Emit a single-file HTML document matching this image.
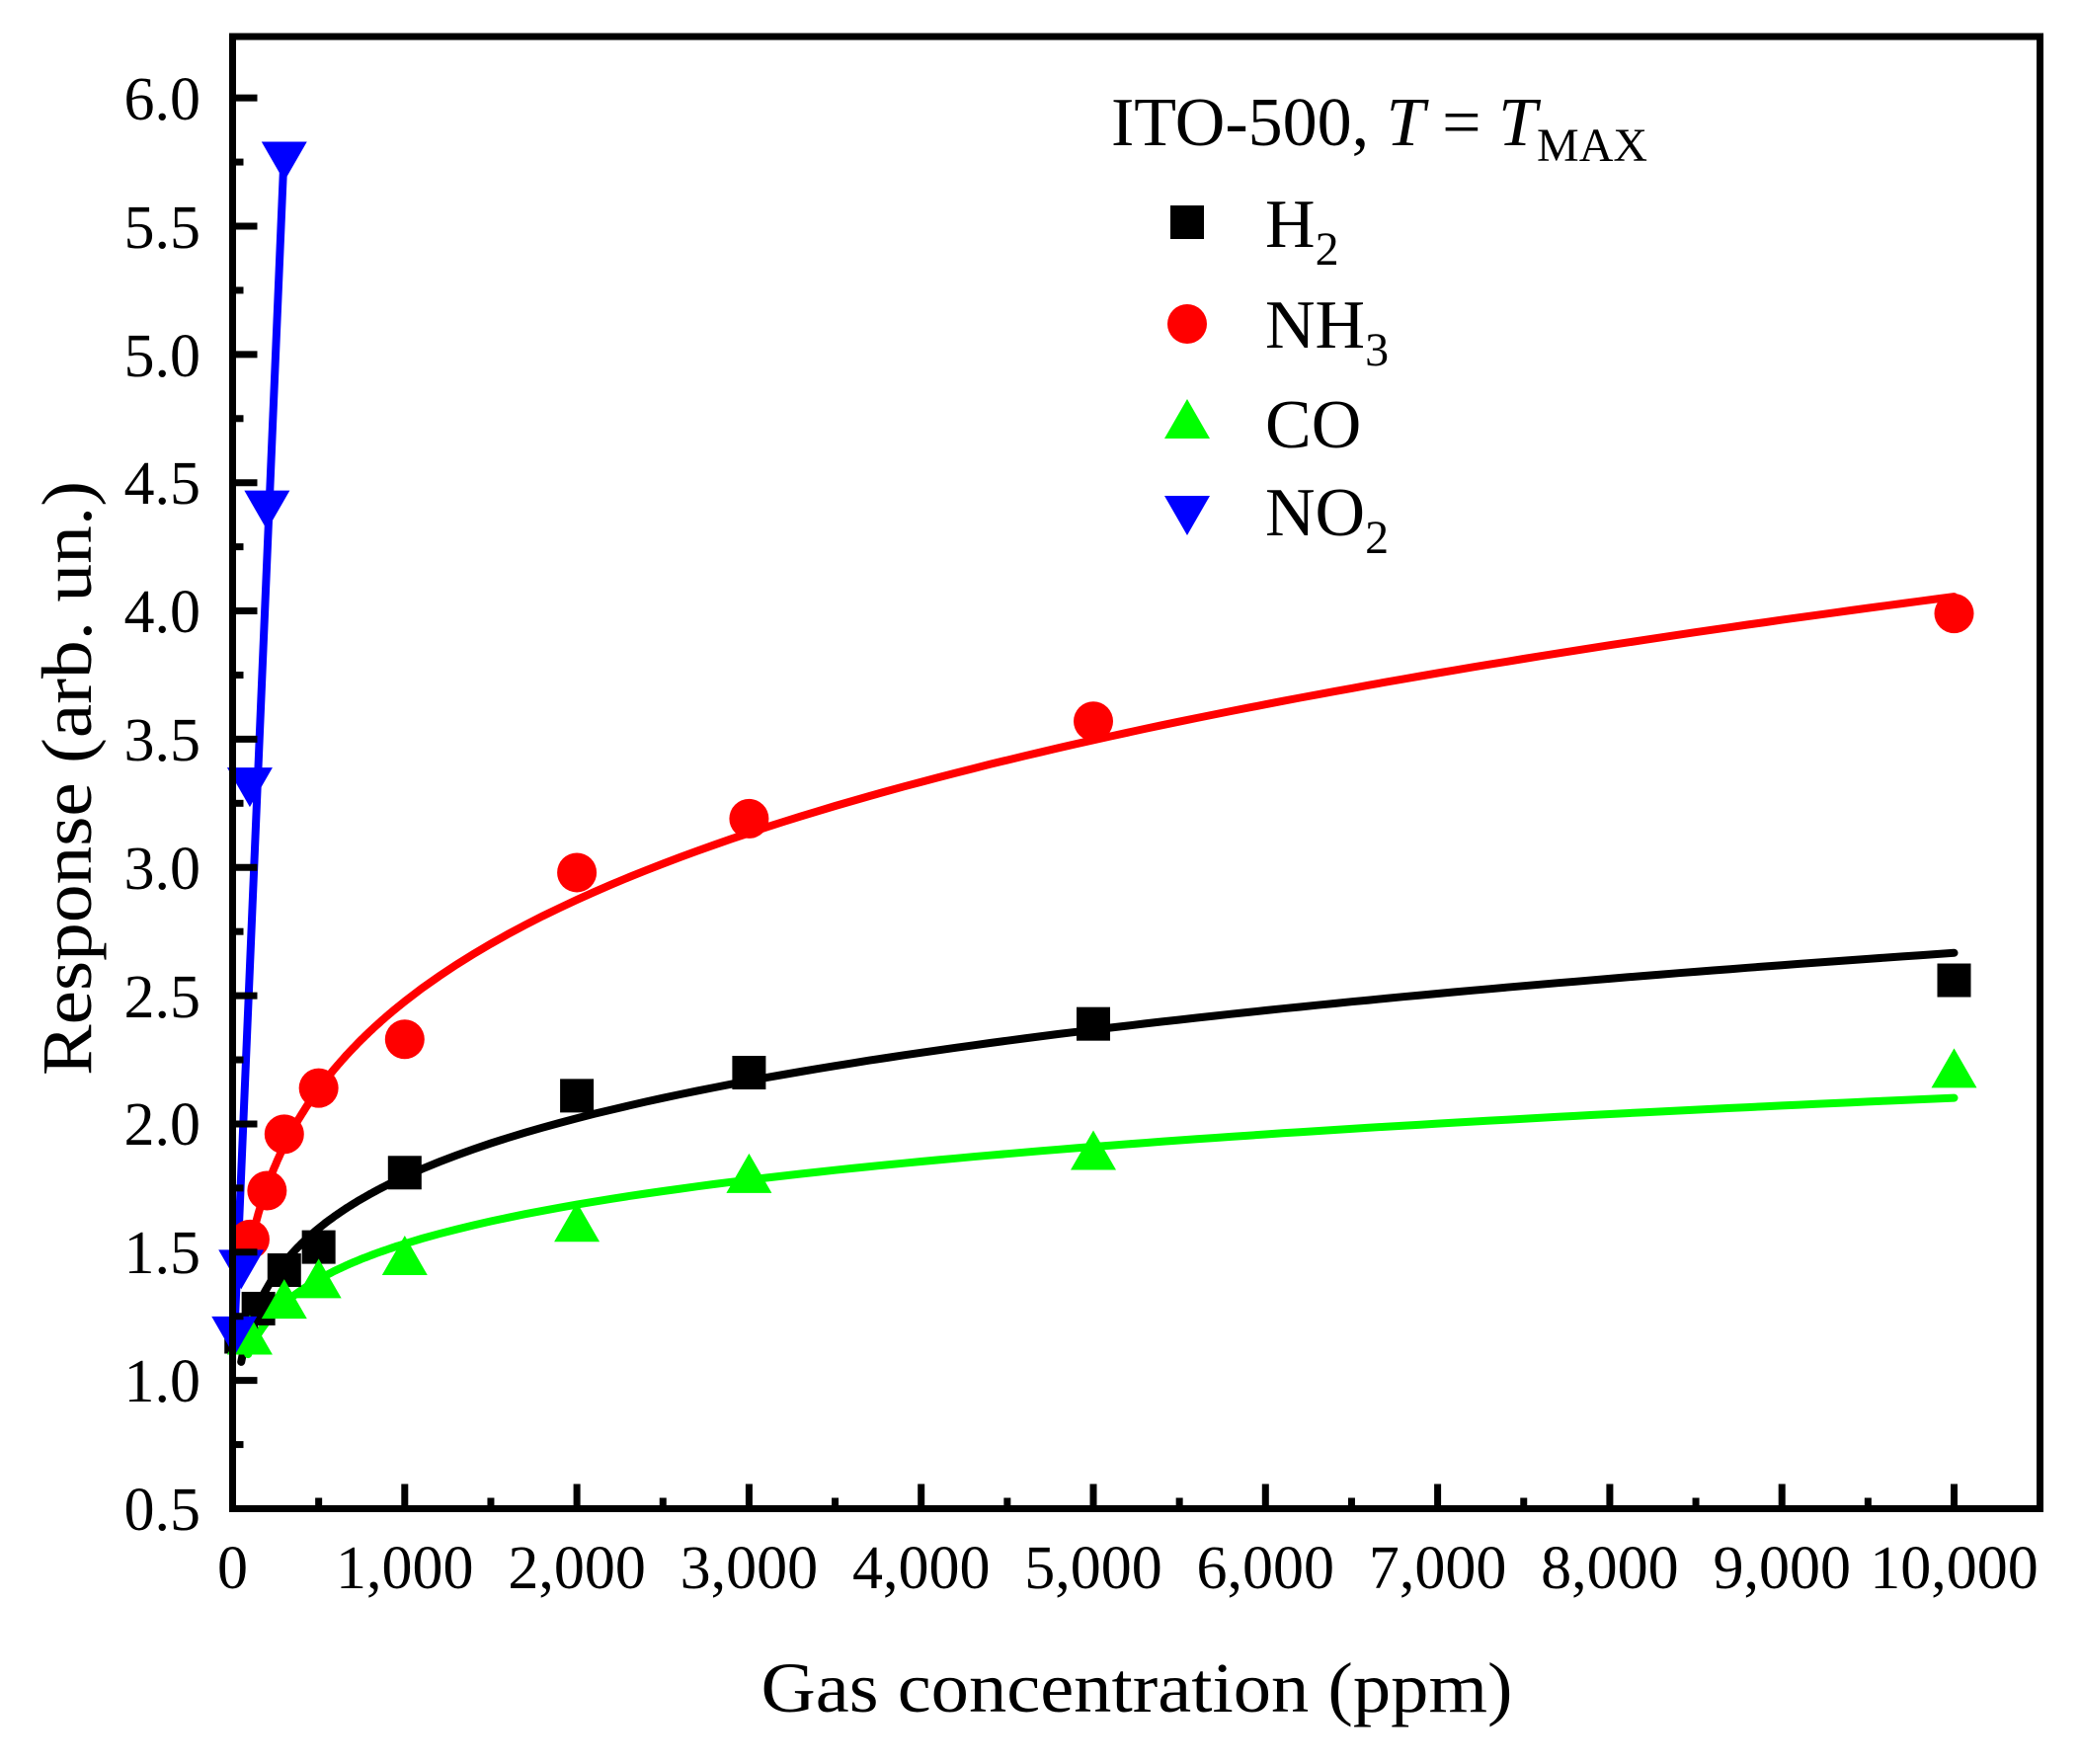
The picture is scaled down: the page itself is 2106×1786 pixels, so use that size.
<!DOCTYPE html>
<html><head><meta charset="utf-8"><style>
html,body{margin:0;padding:0;background:#fff;}
svg{display:block;font-family:"Liberation Serif","Times New Roman",serif;}
</style></head><body>
<svg id="s" width="2106" height="1786" viewBox="0 0 2106 1786" xmlns="http://www.w3.org/2000/svg">
<rect width="2106" height="1786" fill="#fff"/>
<g id="plot"></g>
<rect x="235.5" y="37" width="1830" height="1490.5" fill="none" stroke="#000" stroke-width="7"/>
<g id="ticks"></g>
<g font-size="62" fill="#000" text-anchor="end" id="ylab">
<text x="203" y="1549">0.5</text><text x="203" y="1419">1.0</text><text x="203" y="1289">1.5</text><text x="203" y="1159">2.0</text><text x="203" y="1030">2.5</text><text x="203" y="900">3.0</text><text x="203" y="770">3.5</text><text x="203" y="640">4.0</text><text x="203" y="510">4.5</text><text x="203" y="381">5.0</text><text x="203" y="251">5.5</text><text x="203" y="121">6.0</text>
</g>
<g font-size="62" fill="#000" text-anchor="middle">
<text x="235.5" y="1608">0</text><text x="409.8" y="1608">1,000</text><text x="584.1" y="1608">2,000</text><text x="758.4" y="1608">3,000</text><text x="932.7" y="1608">4,000</text><text x="1107" y="1608">5,000</text><text x="1281.3" y="1608">6,000</text><text x="1455.6" y="1608">7,000</text><text x="1629.9" y="1608">8,000</text><text x="1804.2" y="1608">9,000</text><text x="1978.5" y="1608">10,000</text>
</g>
<text x="1151" y="1733" font-size="72" text-anchor="middle" textLength="761" lengthAdjust="spacingAndGlyphs">Gas concentration (ppm)</text>
<text transform="translate(92,788) rotate(-90)" font-size="72" text-anchor="middle" textLength="602" lengthAdjust="spacingAndGlyphs">Response (arb. un.)</text>
<text x="1125" y="147" font-size="70">ITO-500, <tspan font-style="italic">T</tspan> = <tspan font-style="italic">T</tspan><tspan font-size="48" dy="16">MAX</tspan></text>
<rect x="1185" y="208" width="34" height="34" fill="#000"/>
<circle cx="1202" cy="328" r="20" fill="#f00"/>
<polygon points="1202,404 1225,444 1179,444" fill="#0f0"/>
<polygon points="1179,502 1225,502 1202,542" fill="#00f"/>
<g font-size="70">
<text x="1281" y="250">H<tspan font-size="48" dy="18">2</tspan></text>
<text x="1281" y="352">NH<tspan font-size="48" dy="18">3</tspan></text>
<text x="1281" y="453">CO</text>
<text x="1281" y="542">NO<tspan font-size="48" dy="18">2</tspan></text>
</g>
</svg>
<script>
var NS="http://www.w3.org/2000/svg";
function X(v){return 235.5+v*0.1743;}
function Y(v){return 1527.5-(v-0.5)*259.7;}
function el(t,a,p){var e=document.createElementNS(NS,t);for(var k in a)e.setAttribute(k,a[k]);p.appendChild(e);return e;}
var tk=document.getElementById("ticks"),pl=document.getElementById("plot");
for(var i=0;i<=20;i++){var x=X(i*500),L=(i%2==0)?25:11;el("line",{x1:x,x2:x,y1:1527.5,y2:1527.5-L,stroke:"#000","stroke-width":7},tk);}
for(var i=0;i<=22;i++){var y=Y(0.5+i*0.25),L=(i%2==0)?25:11;el("line",{x1:235.5,x2:235.5+L,y1:y,y2:y,stroke:"#000","stroke-width":7},tk);}
function curve(a,b,x0,col){var d="";for(var x=x0;x<=10000;x+=(x<1000?10:100)){d+=(d?"L":"M")+X(x).toFixed(1)+","+Y(a*Math.pow(x,b)).toFixed(1);}el("path",{d:d,fill:"none",stroke:col,"stroke-width":8,"stroke-linecap":"round"},pl);}
curve(0.565,0.214,90,"#f00");
curve(0.547,0.172,50,"#000");
curve(0.595,0.137,90,"#0f0");
el("path",{d:"M"+X(15)+","+Y(1.25)+"L"+X(300)+","+Y(5.8),fill:"none",stroke:"#00f","stroke-width":8,"stroke-linecap":"round"},pl);
var H=[[50,1.17],[150,1.28],[300,1.43],[500,1.52],[1000,1.81],[2000,2.11],[3000,2.2],[5000,2.39],[10000,2.56]];
var N=[[100,1.55],[200,1.74],[300,1.96],[500,2.14],[1000,2.33],[2000,2.98],[3000,3.19],[5000,3.57],[10000,3.99]];
var C=[[100,1.17],[300,1.31],[500,1.39],[1000,1.48],[2000,1.61],[3000,1.8],[5000,1.89],[10000,2.21]];
var D=[[10,1.18],[50,1.44],[100,3.32],[200,4.40],[300,5.76]];
H.forEach(function(p){el("rect",{x:X(p[0])-17,y:Y(p[1])-17,width:34,height:34,fill:"#000"},pl);});
N.forEach(function(p){el("circle",{cx:X(p[0]),cy:Y(p[1]),r:20,fill:"#f00"},pl);});
C.forEach(function(p){var x=X(p[0]),y=Y(p[1]);el("polygon",{points:x+","+(y-22)+" "+(x+23)+","+(y+18)+" "+(x-23)+","+(y+18),fill:"#0f0"},pl);});
D.forEach(function(p){var x=X(p[0]),y=Y(p[1]);el("polygon",{points:(x-23)+","+(y-18)+" "+(x+23)+","+(y-18)+" "+x+","+(y+22),fill:"#00f"},pl);});
</script>
</body></html>
